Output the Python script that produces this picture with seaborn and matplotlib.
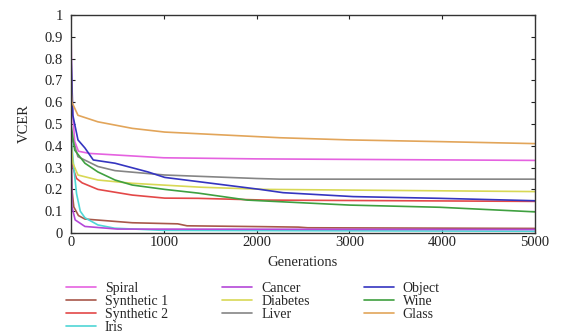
import matplotlib
matplotlib.use("Agg")
import matplotlib.pyplot as plt
import pandas as pd
import seaborn as sns

sns.set_theme(style="ticks")
plt.rcParams["font.family"] = ["Liberation Serif", "DejaVu Serif"]

# best-so-far VCER per dataset
spiral_gen = [0, 10, 40, 80, 200, 1000, 2000, 5000]
spiral_val = [0.95, 0.60, 0.42, 0.375, 0.365, 0.345, 0.34, 0.333]

cancer_gen = [0, 10, 45, 150, 500, 5000]
cancer_val = [0.50, 0.12, 0.06, 0.03, 0.018, 0.016]

object_gen = [0, 20, 75, 150, 240, 475, 830, 1010, 2037, 2285, 3040, 3976, 5000]
object_val = [0.83, 0.54, 0.427, 0.39, 0.335, 0.32, 0.28, 0.255, 0.20, 0.185, 0.167, 0.159, 0.148]

synth1_gen = [0, 10, 30, 80, 150, 660, 1150, 1250, 2090, 2450, 2550, 5000]
synth1_val = [0.35, 0.20, 0.12, 0.08, 0.064, 0.047, 0.042, 0.033, 0.029, 0.027, 0.024, 0.021]

diabetes_gen = [0, 20, 75, 290, 660, 1400, 2100, 5000]
diabetes_val = [0.42, 0.32, 0.266, 0.243, 0.228, 0.21, 0.20, 0.19]

wine_gen = [0, 40, 150, 290, 475, 660, 1010, 1370, 1900, 2037, 3006, 3976, 5000]
wine_val = [0.50, 0.38, 0.32, 0.28, 0.243, 0.22, 0.20, 0.183, 0.151, 0.148, 0.128, 0.118, 0.097]

synth2_gen = [0, 20, 60, 120, 290, 660, 1010, 1370, 2090, 5000]
synth2_val = [0.38, 0.30, 0.25, 0.23, 0.20, 0.174, 0.16, 0.159, 0.151, 0.145]

liver_gen = [0, 20, 40, 75, 290, 475, 1010, 2000, 2250, 5000]
liver_val = [0.45, 0.42, 0.40, 0.35, 0.305, 0.286, 0.266, 0.25, 0.247, 0.247]

glass_gen = [0, 5, 10, 75, 290, 660, 1010, 2250, 3000, 4000, 5000]
glass_val = [0.75, 0.64, 0.60, 0.54, 0.51, 0.48, 0.463, 0.437, 0.427, 0.419, 0.41]

iris_gen = [0, 30, 60, 100, 150, 290, 470, 1000, 5000]
iris_val = [0.45, 0.30, 0.18, 0.10, 0.07, 0.037, 0.022, 0.012, 0.008]

names = ["Spiral", "Synthetic 1", "Synthetic 2", "Iris",
         "Cancer", "Diabetes", "Liver",
         "Object", "Wine", "Glass"]
colors = ["#e562e0", "#a8584a", "#e34848", "#4fd6d6",
          "#b448d8", "#d8d855", "#858585",
          "#3535c0", "#3fa040", "#e2a55a"]
series = {
    "Spiral": (spiral_gen, spiral_val),
    "Synthetic 1": (synth1_gen, synth1_val),
    "Synthetic 2": (synth2_gen, synth2_val),
    "Iris": (iris_gen, iris_val),
    "Cancer": (cancer_gen, cancer_val),
    "Diabetes": (diabetes_gen, diabetes_val),
    "Liver": (liver_gen, liver_val),
    "Object": (object_gen, object_val),
    "Wine": (wine_gen, wine_val),
    "Glass": (glass_gen, glass_val),
}

frames = []
for name in names:
    g, v = series[name]
    frames.append(pd.DataFrame({"gen": g, "vcer": v, "dataset": name}))
df = pd.concat(frames, ignore_index=True)

fig = plt.figure(figsize=(5.61, 3.32), dpi=100)
ax = fig.add_axes([71 / 561, 1 - 233 / 332, 464 / 561, 218 / 332])

sns.lineplot(data=df, x="gen", y="vcer", hue="dataset", hue_order=names,
             palette=colors, estimator=None, sort=False, linewidth=1.2, ax=ax)

ax.set_xlim(0, 5000)
ax.set_ylim(0, 1)
ax.set_xticks([0, 1000, 2000, 3000, 4000, 5000])
ax.set_yticks([0, 0.1, 0.2, 0.3, 0.4, 0.5, 0.6, 0.7, 0.8, 0.9, 1])
ax.set_yticklabels(["0", "0.1", "0.2", "0.3", "0.4", "0.5", "0.6", "0.7", "0.8", "0.9", "1"])
ax.tick_params(direction="in", top=True, right=True, length=3, width=0.8,
               labelsize=10.5, colors="#222222")
ax.tick_params(axis="y", pad=6)
ax.tick_params(axis="x", pad=2)
for sp in ax.spines.values():
    sp.set_linewidth(1.0)
    sp.set_color("#333333")
ax.set_xlabel("Generations", fontsize=10.5, labelpad=5)
ax.set_ylabel("VCER", fontsize=10.5, labelpad=10)

handles, labels = ax.get_legend_handles_labels()
ax.get_legend().remove()
fig.legend(handles, labels, ncol=3, loc="upper left",
           bbox_to_anchor=(66 / 561, 1 - 282 / 332), frameon=False,
           fontsize=10, handlelength=2.15, handletextpad=0.65,
           columnspacing=3.9, labelspacing=0.0, borderpad=0, borderaxespad=0)

fig.savefig("out.png", dpi=100, facecolor="white")
